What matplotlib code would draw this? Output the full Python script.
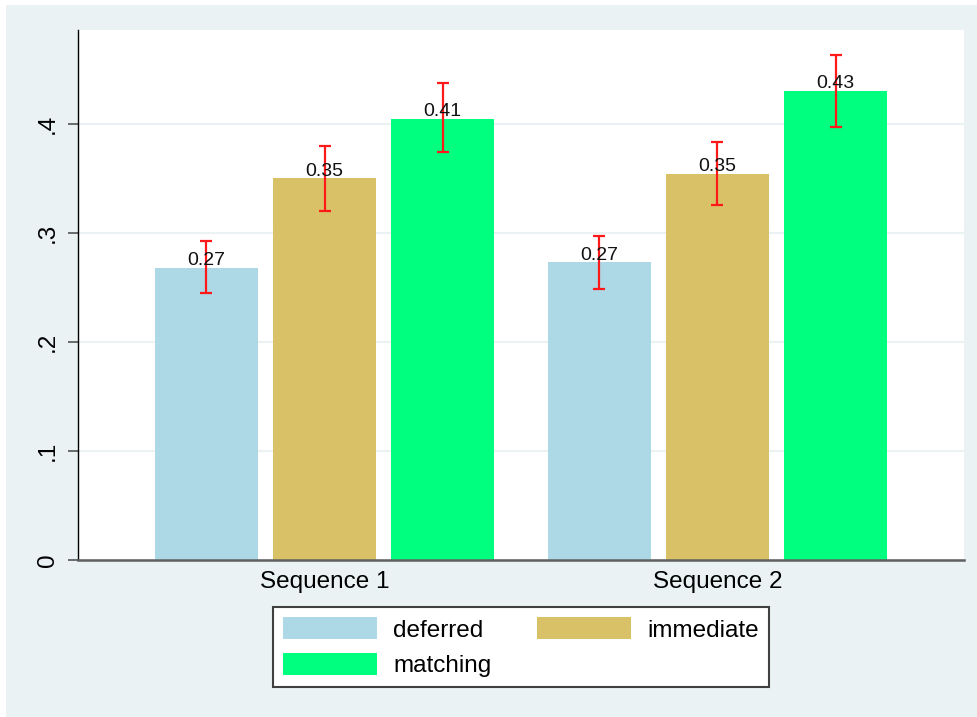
import numpy as np
import matplotlib.pyplot as plt
from matplotlib.patches import Rectangle

plt.rcParams['font.family'] = ['Liberation Sans', 'DejaVu Sans']

groups = ["Sequence 1", "Sequence 2"]
series = ["deferred", "immediate", "matching"]
colors = ["#ADD8E6", "#D8C166", "#00FF7F"]

means = {
    "deferred": [0.268, 0.273],
    "immediate": [0.350, 0.354],
    "matching": [0.405, 0.430],
}
ci_low = {
    "deferred": [0.245, 0.249],
    "immediate": [0.320, 0.326],
    "matching": [0.374, 0.397],
}
ci_high = {
    "deferred": [0.293, 0.297],
    "immediate": [0.380, 0.383],
    "matching": [0.438, 0.463],
}
yticks = [0, 0.1, 0.2, 0.3, 0.4]
ytick_labels = ["0", ".1", ".2", ".3", ".4"]

bg = "#EAF2F3"
fig = plt.figure(figsize=(9.77, 7.17), dpi=100, facecolor="white")
# stata style background panel with thin white edge top/left
fig.patches.append(Rectangle((6 / 977, 0), 1, 1 - 5 / 717, transform=fig.transFigure,
                             facecolor=bg, edgecolor="none", zorder=-10))

ax = fig.add_axes([78 / 977, 1 - 560 / 717, 886 / 977, 530 / 717])
ax.set_facecolor("white")

x = np.arange(1, len(groups) + 1)
step = 0.3003
width = 0.262
handles = []
for i, (name, col) in enumerate(zip(series, colors)):
    xs = x + (i - 1) * step
    vals = np.array(means[name])
    lo = vals - np.array(ci_low[name])
    hi = np.array(ci_high[name]) - vals
    b = ax.bar(xs, vals, width=width, color=col, zorder=2, label=name)
    handles.append(b)
    ax.errorbar(xs, vals, yerr=[lo, hi], fmt="none", ecolor="#FF1A1A",
                elinewidth=1.6, capsize=4.5, capthick=1.6, zorder=3)
    for xv, v in zip(xs, vals):
        ax.annotate(f"{v:.2f}", (xv, v), xytext=(0, 2), textcoords="offset points",
                    ha="center", va="baseline", fontsize=14, color="#111111", zorder=4)

ax.set_xlim(1 - 246.5 / 393, 2 + 246.5 / 393)
ax.set_ylim(0, 0.4862)
ax.set_xticks(x)
ax.set_xticklabels(groups, fontsize=17.5)
ax.set_yticks(yticks)
ax.set_yticklabels(ytick_labels, fontsize=17.5, rotation=90, va="center")
ax.tick_params(axis="x", length=0, pad=8)
ax.tick_params(axis="y", length=7, width=1.2, color="#555555", pad=7)
ax.yaxis.grid(True, color=bg, linewidth=1.5, zorder=0)
ax.set_axisbelow(True)

for s in ["top", "right"]:
    ax.spines[s].set_visible(False)
ax.spines["left"].set_color("black")
ax.spines["left"].set_linewidth(1.0)
ax.spines["bottom"].set_color("#606060")
ax.spines["bottom"].set_linewidth(1.8)

# stata fills legend row-wise, matplotlib column-wise
order = [0, 2, 1]
leg = fig.legend([handles[k] for k in order], [series[k] for k in order],
                 loc="upper center", bbox_to_anchor=(521 / 977, 1 - 607 / 717),
                 ncol=2, fontsize=17.5, fancybox=False, framealpha=1,
                 edgecolor="#404040", borderaxespad=0, borderpad=0.42,
                 handlelength=3.87, handleheight=1.03, handletextpad=0.66,
                 columnspacing=1.9, labelspacing=0.45)
leg.get_frame().set_linewidth(1.5)

fig.savefig("out.png", dpi=100, facecolor=fig.get_facecolor())
